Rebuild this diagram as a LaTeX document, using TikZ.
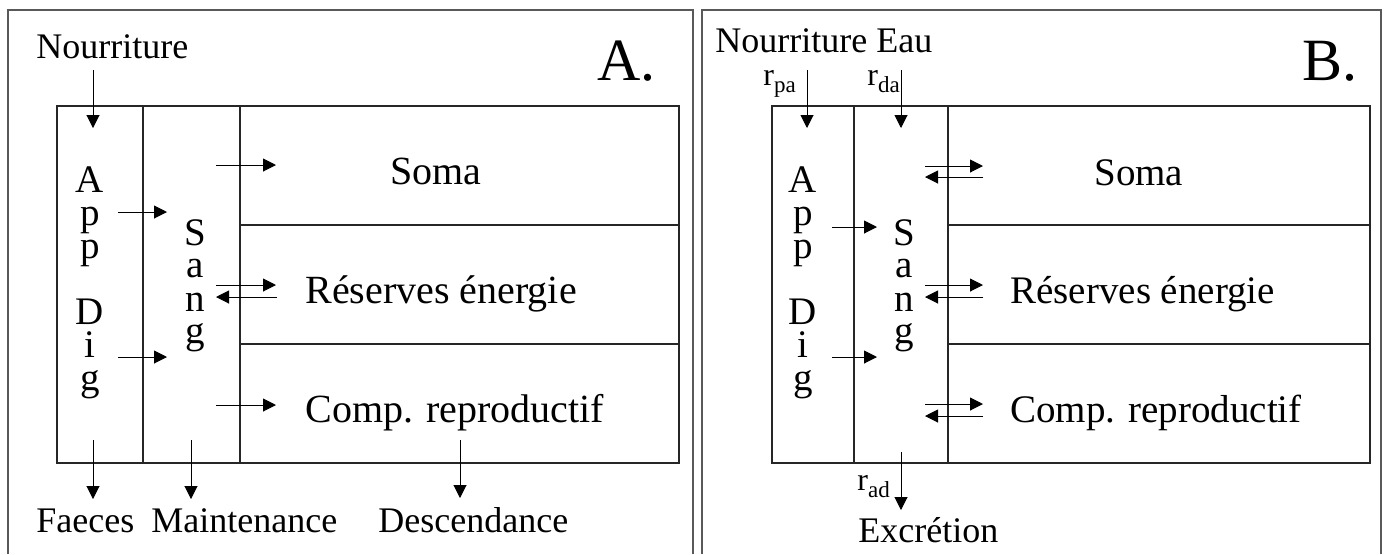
\documentclass[tikz,border=0pt]{standalone}
\usepackage{fontspec}
\setmainfont{Liberation Serif}
\usetikzlibrary{arrows.meta}
\begin{document}
\begin{tikzpicture}[x=0.5pt,y=-0.5pt,
  framel/.style={draw=black!65, line width=0.8pt},
  boxl/.style={draw=black!85, line width=0.6pt},
  arr/.style={-{Triangle[length=6.5pt,width=6.5pt]}, line width=0.5pt},
  outer/.style={anchor=base west, inner sep=0pt, font=\fontsize{18pt}{18pt}\selectfont},
  inA/.style={anchor=base west, inner sep=0pt, font=\fontsize{20pt}{20pt}\selectfont},
  inB/.style={anchor=base west, inner sep=0pt, font=\fontsize{19.5pt}{19.5pt}\selectfont},
  big/.style={anchor=base west, inner sep=0pt, font=\fontsize{30pt}{30pt}\selectfont},
  vlet/.style={anchor=base, inner sep=0pt, text height=12pt, text depth=0pt, font=\fontsize{19.5pt}{19.5pt}\selectfont},
  rate/.style={anchor=base west, inner sep=0pt, font=\fontsize{16pt}{16pt}\selectfont}]
\useasboundingbox (0,0) rectangle (1388,554);
\newcommand{\ratesub}[1]{r\raisebox{-3.5pt}{\fontsize{11.5pt}{11.5pt}\selectfont #1}}
% ---------------- Panel A ----------------
\draw[framel] (8,554) -- (8,10) -- (693,10) -- (693,554);
\draw[boxl] (57,106) rectangle (679,463);
\draw[boxl] (143,106) -- (143,463);
\draw[boxl] (240,106) -- (240,463);
\draw[boxl] (240,225) -- (679,225);
\draw[boxl] (240,344) -- (679,344);
\node[outer] (nourA) at (36,58) {Nourriture};
\node[big] (labA) at (597,80) {A.};
\node[inA] (somaA) at (390,184) {Soma};
\node[inA] (resA) at (305,303) {Réserves énergie};
\node[inA] (compA) at (305,422) {Comp. reproductif};
\node[outer] (faec) at (36,532) {Faeces};
\node[outer] (maint) at (151,532) {Maintenance};
\node[outer] (desc) at (378,532) {Descendance};
\foreach \t/\y [count=\i] in {A/192,p/225,p/258,D/324,i/357,g/390}
  \node[vlet] (adA\i) at (90,\y) {\t};
\foreach \t/\y [count=\i] in {S/245,a/277,n/311,g/343}
  \node[vlet] (sgA\i) at (195,\y) {\t};
\coordinate (a1s) at (93,70);   \coordinate (a1e) at (93,128);
\coordinate (a2s) at (118,212); \coordinate (a2e) at (167,212);
\coordinate (a3s) at (118,357); \coordinate (a3e) at (167,357);
\coordinate (a4s) at (216,165); \coordinate (a4e) at (276,165);
\coordinate (a5s) at (216,285); \coordinate (a5e) at (276,285);
\coordinate (a6s) at (277,297); \coordinate (a6e) at (216,297);
\coordinate (a7s) at (216,405); \coordinate (a7e) at (276,405);
\coordinate (a8s) at (93,440);  \coordinate (a8e) at (93,499);
\coordinate (a9s) at (191,440); \coordinate (a9e) at (191,499);
\coordinate (a10s) at (460,440); \coordinate (a10e) at (460,498);
\foreach \k in {1,...,10} \draw[arr] (a\k s) -- (a\k e);
% ---------------- Panel B ----------------
\draw[framel] (702,554) -- (702,10) -- (1381,10) -- (1381,554);
\draw[boxl] (772,106) rectangle (1370,463);
\draw[boxl] (854,106) -- (854,463);
\draw[boxl] (948,106) -- (948,463);
\draw[boxl] (948,225) -- (1370,225);
\draw[boxl] (948,344) -- (1370,344);
\node[outer] (nourB) at (715,52) {Nourriture Eau};
\node[big] (labB) at (1302,80) {B.};
\node[rate] (rpa) at (763,85) {\ratesub{pa}};
\node[rate] (rda) at (867,85) {\ratesub{da}};
\node[rate] (rad) at (857,490) {\ratesub{ad}};
\node[inB] (somaB) at (1094,185) {Soma};
\node[inB] (resB) at (1010,303) {Réserves énergie};
\node[inB] (compB) at (1010,422) {Comp. reproductif};
\node[outer] (excr) at (858,542) {Excrétion};
\foreach \t/\y [count=\i] in {A/192,p/225,p/258,D/324,i/357,g/390}
  \node[vlet] (adB\i) at (803,\y) {\t};
\foreach \t/\y [count=\i] in {S/245,a/277,n/311,g/343}
  \node[vlet] (sgB\i) at (904,\y) {\t};
\coordinate (b1s) at (807,70);  \coordinate (b1e) at (807,128);
\coordinate (b2s) at (901,70);  \coordinate (b2e) at (901,128);
\coordinate (b3s) at (832,227); \coordinate (b3e) at (877,227);
\coordinate (b4s) at (832,357); \coordinate (b4e) at (877,357);
\coordinate (b5s) at (925,166); \coordinate (b5e) at (983,166);
\coordinate (b6s) at (983,177); \coordinate (b6e) at (925,177);
\coordinate (b7s) at (925,285); \coordinate (b7e) at (983,285);
\coordinate (b8s) at (983,297); \coordinate (b8e) at (925,297);
\coordinate (b9s) at (925,404); \coordinate (b9e) at (983,404);
\coordinate (b10s) at (983,416); \coordinate (b10e) at (925,416);
\coordinate (b11s) at (901,452); \coordinate (b11e) at (901,510);
\foreach \k in {1,...,11} \draw[arr] (b\k s) -- (b\k e);
\end{tikzpicture}
\end{document}
